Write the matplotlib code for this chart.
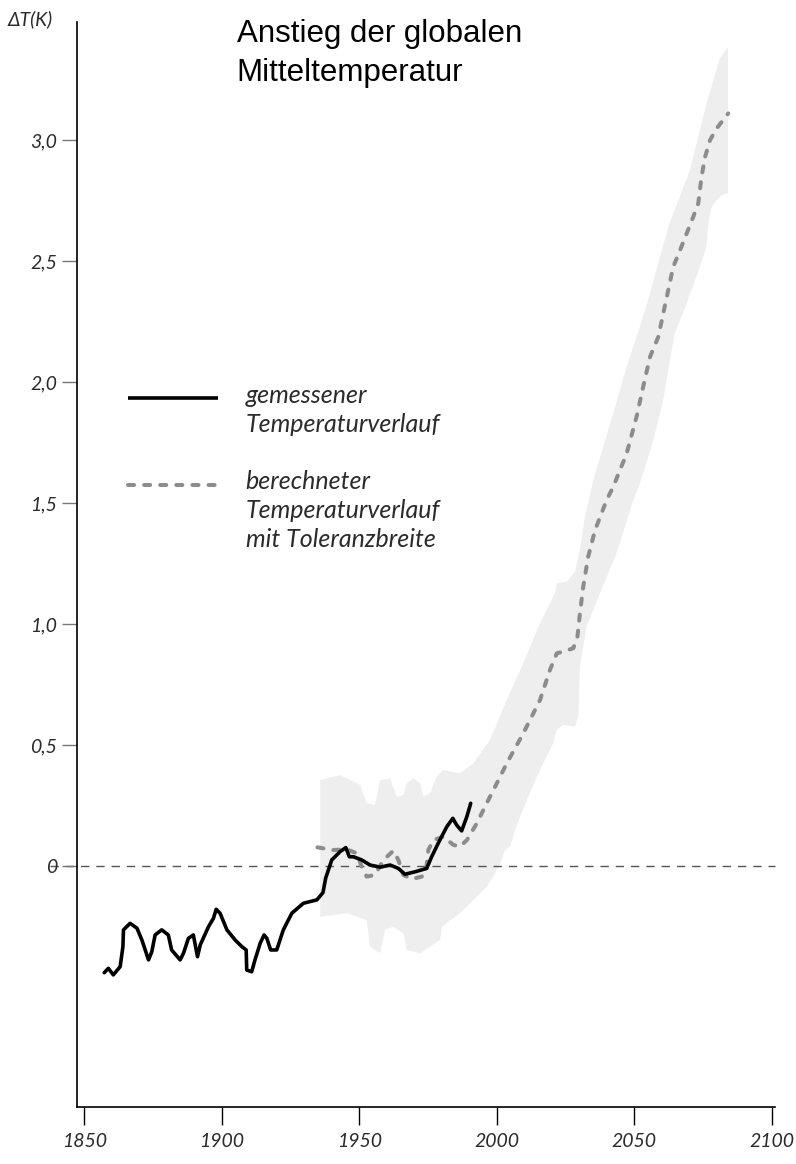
import matplotlib
matplotlib.use("Agg")
import matplotlib.pyplot as plt
from matplotlib.lines import Line2D

# measured temperature (black line)
measured_years = [1857.3, 1858.8, 1860.6, 1863.1, 1864.1, 1864.3, 1866.7, 1869.2, 1871.0, 1873.4,
                  1874.6, 1875.8, 1878.2, 1880.6, 1881.8, 1884.9, 1886.1, 1887.9, 1889.7, 1891.2,
                  1892.2, 1895.2, 1897.0, 1898.0, 1899.4, 1901.9, 1904.9, 1907.3, 1908.9, 1909.1,
                  1910.9, 1912.1, 1914.0, 1915.4, 1916.4, 1917.8, 1920.0, 1922.4, 1925.5, 1929.7,
                  1934.6, 1936.8, 1937.8, 1940.0, 1943.0, 1945.1, 1946.4, 1947.9, 1950.9, 1953.9,
                  1957.6, 1961.2, 1964.2, 1966.6, 1970.3, 1974.5, 1976.3, 1978.7, 1981.8, 1984.0,
                  1985.4, 1987.2, 1989.1, 1990.5]
measured_temp = [-0.441, -0.423, -0.450, -0.416, -0.333, -0.264, -0.237, -0.257, -0.306, -0.388,
                 -0.354, -0.285, -0.264, -0.285, -0.347, -0.388, -0.361, -0.299, -0.285, -0.375,
                 -0.326, -0.251, -0.216, -0.179, -0.195, -0.264, -0.306, -0.333, -0.347, -0.430,
                 -0.437, -0.388, -0.319, -0.285, -0.299, -0.347, -0.347, -0.264, -0.195, -0.154,
                 -0.140, -0.110, -0.050, 0.025, 0.059, 0.076, 0.038, 0.038, 0.025, 0.004,
                 -0.005, 0.004, -0.010, -0.034, -0.024, -0.010, 0.038, 0.094, 0.162, 0.197,
                 0.169, 0.145, 0.204, 0.259]

# computed temperature (grey dashed line)
computed_years = [1934.8, 1940.6, 1945.5, 1949.1, 1950.9, 1952.7, 1955.7, 1958.8, 1962.4, 1964.2,
                  1966.0, 1969.1, 1972.7, 1974.3, 1975.1, 1976.9, 1980.6, 1984.2, 1986.6, 1989.1,
                  1992.7, 1996.3, 2000.0, 2003.6, 2009.6, 2015.7, 2019.3, 2021.8, 2024.2, 2027.8,
                  2029.3, 2030.2, 2031.4, 2033.2, 2035.7, 2039.9, 2042.3, 2047.2, 2050.8, 2053.2,
                  2055.7, 2058.7, 2060.5, 2062.3, 2064.1, 2066.6, 2069.0, 2071.4, 2073.2, 2074.4,
                  2075.7, 2077.5, 2079.9, 2084.1]
computed_temp = [0.077, 0.066, 0.069, 0.052, -0.003, -0.044, -0.037, 0.025, 0.063, 0.025,
                 -0.037, -0.054, -0.044, -0.017, 0.066, 0.107, 0.121, 0.087, 0.080, 0.107,
                 0.176, 0.259, 0.342, 0.424, 0.548, 0.686, 0.810, 0.879, 0.886, 0.900,
                 0.948, 1.044, 1.154, 1.278, 1.388, 1.512, 1.567, 1.705, 1.857, 1.981,
                 2.105, 2.187, 2.284, 2.380, 2.476, 2.545, 2.614, 2.683, 2.738, 2.848,
                 2.931, 3.000, 3.048, 3.110]

# tolerance band: upper and lower edges
band_upper_years = [1935.8, 1943.0, 1950.3, 1952.7, 1955.7, 1957.6, 1961.2, 1963.6, 1966.0, 1967.2,
                    1969.7, 1972.1, 1973.3, 1975.7, 1978.1, 1980.6, 1986.6, 1991.5, 1997.5, 2003.6,
                    2009.6, 2015.7, 2021.1, 2021.8, 2025.4, 2028.4, 2030.2, 2032.0, 2035.1, 2038.7,
                    2043.0, 2047.2, 2052.0, 2055.7, 2059.3, 2062.6, 2070.2, 2073.8, 2076.3, 2081.1,
                    2084.0]
band_upper = [0.355, 0.376, 0.335, 0.259, 0.252, 0.355, 0.362, 0.286, 0.293, 0.342,
              0.362, 0.342, 0.286, 0.300, 0.369, 0.397, 0.383, 0.424, 0.521, 0.686,
              0.838, 1.003, 1.127, 1.168, 1.175, 1.216, 1.306, 1.443, 1.595, 1.733,
              1.898, 2.063, 2.229, 2.367, 2.518, 2.650, 2.876, 3.041, 3.153, 3.339,
              3.384]
band_lower_years = [1935.8, 1945.5, 1952.7, 1953.9, 1957.6, 1959.4, 1962.4, 1966.0, 1967.3, 1972.1,
                    1979.4, 1980.0, 1986.6, 1996.3, 1998.7, 2001.2, 2003.0, 2004.8, 2006.6, 2010.9,
                    2015.7, 2020.5, 2021.7, 2024.2, 2028.4, 2029.6, 2030.2, 2032.6, 2037.5, 2043.5,
                    2049.6, 2052.0, 2056.9, 2060.5, 2062.9, 2064.7, 2069.0, 2073.8, 2076.2, 2076.8,
                    2078.1, 2079.9, 2081.8, 2084.0]
band_lower = [-0.210, -0.195, -0.223, -0.333, -0.361, -0.264, -0.251, -0.278, -0.347, -0.361,
              -0.306, -0.251, -0.195, -0.086, -0.044, 0.011, 0.066, 0.080, 0.149, 0.273,
              0.397, 0.507, 0.562, 0.583, 0.576, 0.617, 0.824, 0.989, 1.127, 1.292,
              1.512, 1.581, 1.760, 1.926, 2.091, 2.201, 2.325, 2.476, 2.559, 2.656,
              2.724, 2.752, 2.773, 2.781]

x_ticks = [1850, 1900, 1950, 2000, 2050, 2100]
y_ticks = [0, 0.5, 1.0, 1.5, 2.0, 2.5, 3.0]
y_tick_labels = ['0', '0,5', '1,0', '1,5', '2,0', '2,5', '3,0']
zero_line_years = [1837.5, 2101]

W, H = 796, 1164
GREY = '#8c8c8c'
BAND = '#eeeeee'
TXT = ['Lato', 'DejaVu Sans']
TXT_COLOR = '#2b2b2b'

fig = plt.figure(figsize=(W / 100, H / 100), dpi=100)
ax = fig.add_axes([76.7 / W, 1 - 1107 / H, (775 - 76.7) / W, (1107 - 21.7) / H])
ax.set_xlim(1847.3, 2101.1)
ax.set_ylim(-0.996, 3.489)

# band
band_x = band_upper_years + band_lower_years[::-1]
band_y = band_upper + band_lower[::-1]
ax.fill(band_x, band_y, color=BAND, lw=0, zorder=0)

# zero reference line
ax.plot(zero_line_years, [0, 0], color='#555555', lw=1.0, dashes=(6, 5),
        clip_on=False, zorder=1)

ax.plot(computed_years, computed_temp, color=GREY, lw=2.9, dashes=(1.5, 2.5),
        dash_capstyle='round', dash_joinstyle='round', zorder=2)
ax.plot(measured_years, measured_temp, color='black', lw=2.6,
        solid_joinstyle='round', solid_capstyle='round', zorder=3)

# axes styling
for s in ['top', 'right']:
    ax.spines[s].set_visible(False)
ax.spines['left'].set_linewidth(1.2)
ax.spines['bottom'].set_linewidth(1.2)
ax.set_xticks(x_ticks)
ax.set_xticklabels([str(v) for v in x_ticks])
ax.set_yticks(y_ticks)
ax.set_yticklabels(y_tick_labels)
ax.tick_params(axis='x', direction='out', length=13, width=1, pad=6, labelsize=14)
ax.tick_params(axis='y', direction='out', length=11, width=1, color='#777777', pad=3,
               labelsize=14)
for lbl in ax.get_xticklabels() + ax.get_yticklabels():
    lbl.set_fontstyle('italic')
    lbl.set_family(TXT)
    lbl.set_color(TXT_COLOR)

# title
fig.text(236.7 / W, 1 - 41.7 / H, 'Anstieg der globalen', fontsize=22.5,
         family='Liberation Sans', va='baseline', ha='left')
fig.text(236.7 / W, 1 - 81 / H, 'Mitteltemperatur', fontsize=22.5,
         family='Liberation Sans', va='baseline', ha='left')

# axis label
fig.text(8 / W, 1 - 25 / H, 'ΔT(K)', fontsize=14, family=TXT, style='italic',
         va='baseline', ha='left', color=TXT_COLOR)

# legend
fig.add_artist(Line2D([128.3 / W, 218.3 / W], [1 - 397.7 / H] * 2, transform=fig.transFigure,
                      color='black', lw=2.6, solid_capstyle='butt'))
fig.add_artist(Line2D([128.3 / W, 218.3 / W], [1 - 485 / H] * 2, transform=fig.transFigure,
                      color=GREY, lw=2.9, dashes=(1.5, 2.5), dash_capstyle='round'))
legend_lines = [('gemessener', 403.3), ('Temperaturverlauf', 431.7),
                ('berechneter', 489.3), ('Temperaturverlauf', 518.3),
                ('mit Toleranzbreite', 546.7)]
for txt, yb in legend_lines:
    fig.text(245.7 / W, 1 - yb / H, txt, fontsize=18, family=TXT, style='italic',
             va='baseline', ha='left', color=TXT_COLOR)

fig.savefig('out.png', dpi=100)
